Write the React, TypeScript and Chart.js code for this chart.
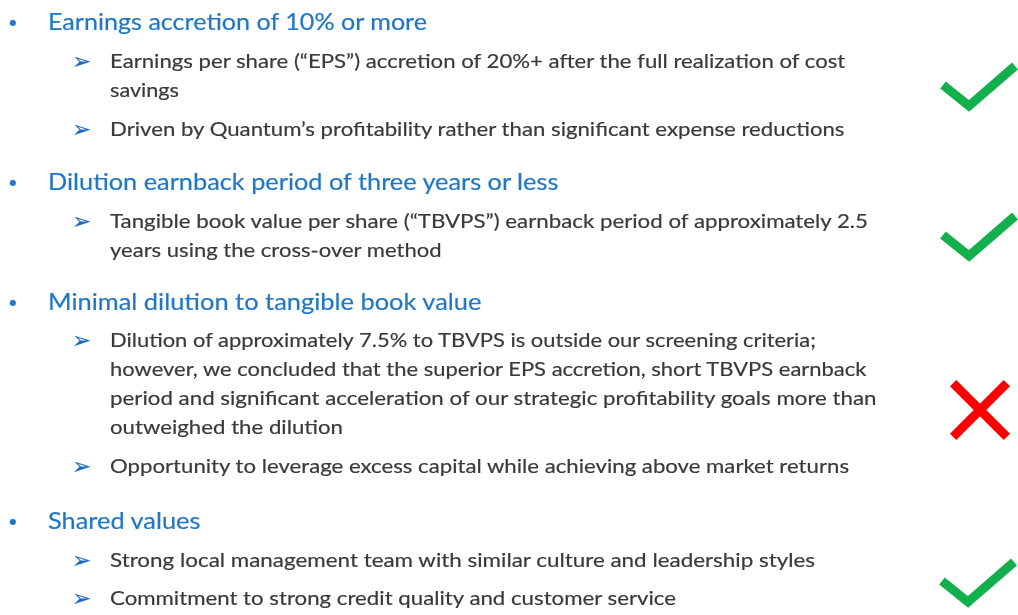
import React, { useEffect, useRef } from "react";
import { Chart, registerables } from "chart.js";

Chart.register(...registerables);

// ---------- content ----------
const headings = [
  "Earnings accretion of 10% or more",
  "Dilution earnback period of three years or less",
  "Minimal dilution to tangible book value",
  "Shared values",
];

const bodyLines = [
  "Earnings per share (\u201cEPS\u201d) accretion of 20%+ after the full realization of cost",
  "savings",
  "Driven by Quantum\u2019s profitability rather than significant expense reductions",
  "Tangible book value per share (\u201cTBVPS\u201d) earnback period of approximately 2.5",
  "years using the cross-over method",
  "Dilution of approximately 7.5% to TBVPS is outside our screening criteria;",
  "however, we concluded that the superior EPS accretion, short TBVPS earnback",
  "period and significant acceleration of our strategic profitability goals more than",
  "outweighed the dilution",
  "Opportunity to leverage excess capital while achieving above market returns",
  "Strong local management team with similar culture and leadership styles",
  "Commitment to strong credit quality and customer service",
];

// whether the body line starts a new sub-bullet
const bodyLineStartsItem = [true, false, true, true, false, true, false, false, false, true, true, true];

// verdict for each section
const sectionMarks = ["check", "check", "cross", "check"];

// ---------- layout ----------
const headingLeft = 48;
const headingBaseline = [29.5, 190, 310, 528.5];
const headingRight = [428, 560, 482, 201];

const bodyLeft = 110;
const bodyBaseline = [68, 97, 136, 228, 257, 347, 376, 405, 434, 473, 567, 605];
const bodyRight = [847, 179, 846, 870, 442, 818, 868, 878, 343, 850, 816, 677];

const markX = [969, 969, 980, 968];
const markY = [106, 256, 410, 602];
const checkShape = [
  [-26, -21],
  [0, 0],
  [46, -40],
];

const W = 1018;
const H = 615;

const HEAD_FONT = "23px Lato";
const BODY_FONT = "20px Lato";
const BULLET_FONT = "22px 'Liberation Sans'";
const ARROW_FONT = "23px 'DejaVu Sans'";
const BLUE = "#1F77C6";
const ARROW_BLUE = "#1A68C4";
const GRAY = "#3A3A3A";
const GREEN = "#12B04C";
const RED = "#FF0000";

let measureCtx: CanvasRenderingContext2D | null = null;
function measure(text: string, font: string) {
  if (!measureCtx) measureCtx = document.createElement("canvas").getContext("2d");
  const ctx = measureCtx!;
  ctx.font = font;
  const m = ctx.measureText(text);
  return { width: m.width, ascent: m.fontBoundingBoxAscent };
}

function TextLine(props: {
  text: string;
  left: number;
  baseline: number;
  font: string;
  color: string;
  right?: number;
}) {
  const { text, left, baseline, font, color, right } = props;
  const m = measure(text, font);
  const scale = right ? (right - left) / m.width : 1;
  return (
    <div
      style={{
        position: "absolute",
        left,
        top: baseline - m.ascent,
        font,
        lineHeight: "normal",
        color,
        whiteSpace: "nowrap",
        transform: `scaleX(${scale})`,
        transformOrigin: "0 0",
        WebkitTextStroke: "0.2px " + color,
      }}
    >
      {text}
    </div>
  );
}

function Marks() {
  const ref = useRef<HTMLCanvasElement | null>(null);
  useEffect(() => {
    if (!ref.current) return;
    const datasets: any[] = [];
    sectionMarks.forEach((kind, i) => {
      if (kind === "check") {
        datasets.push({
          type: "line",
          data: checkShape.map(([dx, dy]) => ({ x: markX[i] + dx, y: markY[i] + dy })),
          borderColor: GREEN,
          borderWidth: 9,
          borderJoinStyle: "miter",
          borderCapStyle: "butt",
          pointRadius: 0,
          tension: 0,
          fill: false,
          clip: false,
        });
      } else {
        datasets.push({
          type: "scatter",
          data: [{ x: markX[i], y: markY[i] }],
          pointStyle: "crossRot",
          pointRadius: 38,
          pointBorderWidth: 9,
          pointBorderColor: RED,
          pointBackgroundColor: RED,
          borderColor: RED,
          clip: false,
        });
      }
    });
    const chart = new Chart(ref.current, {
      type: "scatter",
      data: { datasets },
      options: {
        responsive: false,
        animation: false,
        devicePixelRatio: 1,
        layout: { padding: 0, autoPadding: false },
        events: [],
        plugins: { legend: { display: false }, tooltip: { enabled: false } },
        scales: {
          x: { type: "linear", min: 0, max: W, display: false },
          y: { type: "linear", min: 0, max: H, reverse: true, display: false },
        },
      },
    });
    return () => chart.destroy();
  }, []);
  return (
    <canvas
      ref={ref}
      width={W}
      height={H}
      style={{ position: "absolute", left: 0, top: 0, width: W, height: H }}
    />
  );
}

export default function App() {
  return (
    <div
      style={{
        position: "fixed",
        left: 0,
        top: 0,
        width: W,
        height: H,
        overflow: "hidden",
        background: "#ffffff",
      }}
    >
      <Marks />
      {headings.map((h, i) => (
        <React.Fragment key={"h" + i}>
          <TextLine text={"\u2022"} left={9} baseline={headingBaseline[i]} font={BULLET_FONT} color={BLUE} />
          <TextLine
            text={h}
            left={headingLeft}
            baseline={headingBaseline[i]}
            right={headingRight[i]}
            font={HEAD_FONT}
            color={BLUE}
          />
        </React.Fragment>
      ))}
      {bodyLines.map((t, i) => (
        <React.Fragment key={"b" + i}>
          {bodyLineStartsItem[i] && (
            <TextLine text={"\u27A2"} left={72} baseline={bodyBaseline[i] + 0.5} font={ARROW_FONT} color={ARROW_BLUE} />
          )}
          <TextLine
            text={t}
            left={bodyLeft}
            baseline={bodyBaseline[i]}
            right={bodyRight[i]}
            font={BODY_FONT}
            color={GRAY}
          />
        </React.Fragment>
      ))}
    </div>
  );
}
